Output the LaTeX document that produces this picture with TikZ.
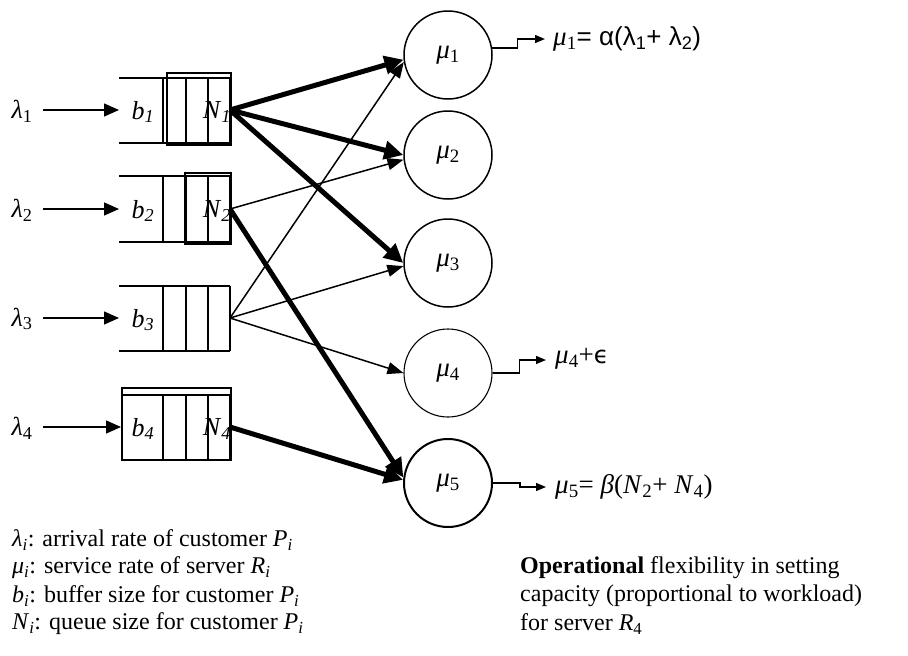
\documentclass[tikz,border=0pt]{standalone}
\usepackage{fontspec}
\setmainfont{Liberation Serif}
\newfontfamily\lsans{Liberation Sans}
\newfontfamily\dsans{DejaVu Sans}
\usetikzlibrary{arrows.meta}
\newcommand\sbs[1]{\textsubscript{#1}}
\begin{document}
\begin{tikzpicture}[x=1pt,y=-1pt,
  qline/.style={line width=1.3pt},
  srv/.style={circle,draw,line width=1.5pt,minimum size=88pt,inner sep=0pt,
    font=\fontsize{27}{30}\selectfont},
  inarrow/.style={line width=1.4pt,-{Triangle[length=15pt,width=13pt]}},
  thinflow/.style={line width=1.5pt,-{Triangle[length=16pt,width=12pt]}},
  thickflow/.style={line width=5pt,-{Triangle[length=19pt,width=18pt]}},
  outarrow/.style={line width=1.3pt,-{Triangle[length=10pt,width=8pt]}},
  lbl/.style={font=\fontsize{26}{29}\selectfont,inner sep=0pt},
  outlbl/.style={font=\fontsize{27}{30}\selectfont,inner sep=0pt,anchor=west},
  legend/.style={font=\fontsize{24}{28}\selectfont,inner sep=0pt,anchor=west}]

\useasboundingbox[fill=white] (0,0) rectangle (908,656);

% ---- queues (open-ended buffers with cells) ----
% queue 1
\draw[qline] (119,78) -- (230,78) (119,143) -- (230,143);
\foreach \x in {163,186,208,230} \draw[qline] (\x,78) -- (\x,143);
\draw[qline] (167,73) rectangle (231,145);
% queue 2
\draw[qline] (119,176) -- (230,176) (119,242) -- (230,242);
\foreach \x in {163,186,208,230} \draw[qline] (\x,176) -- (\x,242);
\draw[qline] (185,173) rectangle (231,244);
% queue 3
\draw[qline] (119,286) -- (230,286) (119,351) -- (230,351);
\foreach \x in {163,186,208,230} \draw[qline] (\x,286) -- (\x,351);
% queue 4
\draw[qline] (122,395) -- (230,395) (122,460) -- (230,460);
\foreach \x in {122,163,186,208,230} \draw[qline] (\x,395) -- (\x,460);
\draw[qline] (122,388) rectangle (231,460);

% buffer and queue labels
\node[lbl] (b1) at (143,112) {\textit{b}\sbs{\textit{1}}};
\node[lbl] (n1) at (217,112) {\textit{N}\sbs{\textit{1}}};
\node[lbl] (b2) at (143,211) {\textit{b}\sbs{\textit{2}}};
\node[lbl] (n2) at (217,211) {\textit{N}\sbs{\textit{2}}};
\node[lbl] (b3) at (143,320) {\textit{b}\sbs{\textit{3}}};
\node[lbl] (b4) at (143,429) {\textit{b}\sbs{\textit{4}}};
\node[lbl] (n4) at (217,429) {\textit{N}\sbs{\textit{4}}};

% queue entry and exit points
\coordinate (qi1) at (119,110); \coordinate (q1) at (230,110);
\coordinate (qi2) at (119,209); \coordinate (q2) at (230,209);
\coordinate (qi3) at (119,318); \coordinate (q3) at (230,318);
\coordinate (qi4) at (121,427); \coordinate (q4) at (230,427);

% ---- arrivals ----
\node[lbl] (l1) at (22,111) {\textit{λ}\sbs{1}};
\node[lbl] (l2) at (22,210) {\textit{λ}\sbs{2}};
\node[lbl] (l3) at (22,319) {\textit{λ}\sbs{3}};
\node[lbl] (l4) at (22,428) {\textit{λ}\sbs{4}};
\coordinate (a1) at (43,110);
\coordinate (a2) at (43,209);
\coordinate (a3) at (43,318);
\coordinate (a4) at (43,427);
\draw[inarrow] (a1) -- (qi1);
\draw[inarrow] (a2) -- (qi2);
\draw[inarrow] (a3) -- (qi3);
\draw[inarrow] (a4) -- (qi4);

% ---- servers ----
\node[srv] (m1) at (448,55) {\textit{μ}\sbs{1}};
\node[srv] (m2) at (448,155) {\textit{μ}\sbs{2}};
\node[srv] (m3) at (448,263) {\textit{μ}\sbs{3}};
\node[srv,line width=1.1pt] (m4) at (448,373) {\textit{μ}\sbs{4}};
\node[srv,line width=2pt] (m5) at (448,483) {\textit{μ}\sbs{5}};

% ---- routing ----
\draw[thinflow] (q3) -- (m1.189);
\draw[thinflow] (q2) -- (m2.186);
\draw[thinflow] (q3) -- (m3.184);
\draw[thinflow] (q3) -- (m4.west);
\draw[thickflow] (q1) -- (m1.186);
\draw[thickflow] (q1) -- (m2.west);
\draw[thickflow] (q1) -- (m3.west);
\draw[thickflow] (q2) -- (m5.173);
\draw[thickflow] (q4) -- (m5.176);

% ---- server outputs ----
\coordinate (o1) at (545,39);
\coordinate (o4) at (546,360);
\coordinate (o5) at (546,487);
\draw[outarrow] (m1.9) -- ++(25,0) |- (o1);
\draw[outarrow] (m4.east) -- ++(27,0) |- (o4);
\draw[outarrow] (m5.east) -- ++(27,0) |- (o5);

\node[outlbl] (r1) at (553,39) {\textit{μ}\sbs{1}{\lsans\fontsize{26}{30}\selectfont= α(λ\sbs{1}+ λ\sbs{2})}};
\node[outlbl] (r4) at (555,359) {\textit{μ}\sbs{4}+{\dsans\fontsize{24}{28}\selectfont ϵ}};
\node[outlbl] (r5) at (555,487) {\textit{μ}\sbs{5}= \textit{β}(\textit{N}\sbs{2}+ \textit{N}\sbs{4})};

% ---- notation ----
\node[legend] (k1) at (12,540) {\textit{λ}\sbs{\textit{i}}: arrival rate of customer \textit{P}\sbs{\textit{i}}};
\node[legend] (k2) at (12,568) {\textit{μ}\sbs{\textit{i}}: service rate of server \textit{R}\sbs{\textit{i}}};
\node[legend] (k3) at (12,596) {\textit{b}\sbs{\textit{i}}: buffer size for customer \textit{P}\sbs{\textit{i}}};
\node[legend] (k4) at (12,624) {\textit{N}\sbs{\textit{i}}: queue size for customer \textit{P}\sbs{\textit{i}}};

\node[legend] (c1) at (520,568) {\textbf{Operational} flexibility in setting};
\node[legend] (c2) at (520,596) {capacity (proportional to workload)};
\node[legend] (c3) at (520,624) {for server \textit{R}\sbs{4}};
\end{tikzpicture}
\end{document}
